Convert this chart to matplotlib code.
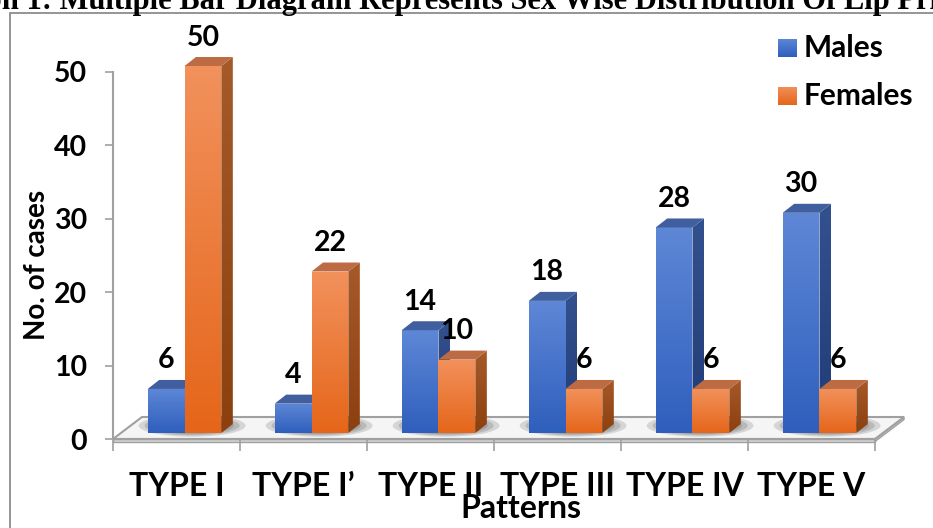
import numpy as np
import matplotlib
matplotlib.use("Agg")
import matplotlib.pyplot as plt
from matplotlib.patches import Polygon, Rectangle, Ellipse
from matplotlib.colors import to_rgb

# ---- data -------------------------------------------------------------
categories = ["TYPE I", "TYPE I\u2019", "TYPE II", "TYPE III", "TYPE IV", "TYPE V"]
males = [6, 4, 14, 18, 28, 30]
females = [50, 22, 10, 6, 6, 6]
series_names = ["Males", "Females"]
y_ticks = [0, 10, 20, 30, 40, 50]
title = "Graph 1: Multiple Bar Diagram Represents Sex Wise Distribution Of Lip Print Patterns"

# ---- style ------------------------------------------------------------
plt.rcParams["font.family"] = ["Lato", "DejaVu Sans"]
plt.rcParams["font.weight"] = "bold"

W, H = 933, 528
fig = plt.figure(figsize=(W / 100, H / 100), dpi=100)
fig.patch.set_facecolor("white")
ax = fig.add_axes([0, 0, 1, 1])

# pixel geometry of the plot frame
x0_px, y0_px = 113.0, 439.0     # origin of the value axis
cat_px = 127.0                  # width of one category
unit_px = 7.34                  # pixels per count
ax.set_xlim(-x0_px / cat_px, (W - x0_px) / cat_px)
ax.set_ylim((y0_px - H) / unit_px, y0_px / unit_px)
ax.set_autoscale_on(False)
ax.set_facecolor("none")

# 3-D projection offsets (data units)
floor_dx, floor_dy = 29 / cat_px, 22 / unit_px
front_dx, front_dy = 8 / cat_px, 6 / unit_px
depth_dx, depth_dy = 11.5 / cat_px, 9 / unit_px
bar_w = 0.29
grey = "#a0a0a0"

def gradient_fill(verts, top, bottom, z):
    verts = np.asarray(verts)
    xa, xb = verts[:, 0].min(), verts[:, 0].max()
    ya, yb = verts[:, 1].min(), verts[:, 1].max()
    t = np.linspace(0, 1, 64)[:, None]
    c = (1 - t) * np.array(to_rgb(top)) + t * np.array(to_rgb(bottom))
    img = c[:, None, :]
    im = ax.imshow(img, extent=[xa, xb, ya, yb], origin="upper",
                   aspect="auto", interpolation="bilinear", zorder=z)
    poly = Polygon(verts, closed=True, facecolor="none", edgecolor="none")
    ax.add_patch(poly)
    im.set_clip_path(poly)

# ---- floor ------------------------------------------------------------
n = len(categories)
floor = [(0, 0), (n, 0), (n + floor_dx, floor_dy), (floor_dx, floor_dy)]
slab_h = 0.35
ax.add_patch(Polygon([(0, 0), (n, 0), (n, -slab_h), (0, -slab_h)],
                     facecolor="#d6d6d6", edgecolor=grey, lw=1.0, zorder=1))
ax.add_patch(Polygon([(n, 0), (n + floor_dx, floor_dy),
                      (n + floor_dx, floor_dy - slab_h), (n, -slab_h)],
                     facecolor="#cfcfcf", edgecolor=grey, lw=1.0, zorder=1))
floor_patch = Polygon(floor, facecolor="#f5f5f5", edgecolor=grey, lw=1.5, zorder=1.2)
ax.add_patch(floor_patch)

# soft shadows on the floor behind each pair of bars
for k in range(n):
    cx = k + 0.5 + front_dx + 0.06
    for i in range(7):
        s = 1 - i * 0.11
        e = Ellipse((cx, front_dy + 1.0), 2 * bar_w * 1.45 * s, 3.0 * s,
                    facecolor="black", edgecolor="none", alpha=0.13, zorder=1.3)
        ax.add_patch(e)
        e.set_clip_path(floor_patch)

# ---- bars -------------------------------------------------------------
colours = [
    dict(front=("#5e87d6", "#2f5fbd"), top="#415f9f", side=("#34518f", "#1f3c78")),
    dict(front=("#f2915c", "#e5661a"), top="#bd6b42", side=("#a65a2a", "#8c400e")),
]
for k in range(n):
    for s, vals in enumerate([males, females]):
        v = vals[k]
        c = colours[s]
        z = 3 + k * 0.1 + s * 0.05
        xl = k + 0.5 - bar_w + s * bar_w + front_dx
        xr = xl + bar_w
        yb, yt = front_dy, front_dy + v
        gradient_fill([(xl, yb), (xr, yb), (xr, yt), (xl, yt)], *c["front"], z)
        gradient_fill([(xr, yb), (xr + depth_dx, yb + depth_dy),
                       (xr + depth_dx, yt + depth_dy), (xr, yt)], *c["side"], z)
        ax.add_patch(Polygon([(xl, yt), (xr, yt), (xr + depth_dx, yt + depth_dy),
                              (xl + depth_dx, yt + depth_dy)],
                             facecolor=c["top"], edgecolor="none", zorder=z))
        ax.annotate(str(v), xy=((xl + xr) / 2, yt), xytext=(0, 20.5),
                    textcoords="offset points", ha="center", va="center",
                    fontsize=20.5, fontweight="bold", zorder=10)

# ---- axes -------------------------------------------------------------
for side in ["top", "right"]:
    ax.spines[side].set_visible(False)
ax.spines["left"].set_position(("data", 0))
ax.spines["left"].set_bounds(0, y_ticks[-1])
ax.spines["left"].set_color(grey)
ax.spines["left"].set_linewidth(1.5)
ax.spines["bottom"].set_position(("data", 0))
ax.spines["bottom"].set_bounds(0, n)
ax.spines["bottom"].set_color(grey)
ax.spines["bottom"].set_linewidth(1.5)
ax.spines["bottom"].set_zorder(1.25)

ax.set_yticks(y_ticks)
ax.set_yticklabels([str(t) for t in y_ticks])
ax.tick_params(axis="y", direction="out", length=5.8, width=1.2, color=grey,
               pad=13.0, labelsize=20.5)
ax.set_xticks(np.arange(n + 1))
ax.set_xticklabels([])
ax.set_xticks(np.arange(n) + 0.5, minor=True)
ax.set_xticklabels(categories, minor=True)
ax.tick_params(axis="x", which="major", direction="out", length=8.6, width=1.2,
               color=grey)
ax.tick_params(axis="x", which="minor", length=0, pad=24, labelsize=23)

ax.set_ylabel("No. of cases", fontsize=20, fontweight="bold")
ax.yaxis.set_label_coords(37 / W, 1 - 265 / H)
ax.set_xlabel("Patterns", fontsize=23, fontweight="bold")
ax.xaxis.set_label_coords(521 / W, 1 - 508 / H)
ax.xaxis.label.set_va("center")
ax.yaxis.label.set_va("center")

# ---- legend -----------------------------------------------------------
leg_rows = [48, 96]
for name, row, c in zip(series_names, leg_rows, colours):
    sq = 19
    lx = (778 - x0_px) / cat_px
    ly_top = (y0_px - (row - sq / 2)) / unit_px
    ly_bot = (y0_px - (row + sq / 2)) / unit_px
    gradient_fill([(lx, ly_bot), (lx + sq / cat_px, ly_bot),
                   (lx + sq / cat_px, ly_top), (lx, ly_top)], *c["front"], 10)
    fig.text(804 / W, 1 - row / H, name, ha="left", va="center",
             fontsize=21.5, fontweight="bold")

# ---- frame and clipped caption ---------------------------------------
fig.add_artist(Rectangle((9.5 / W, -0.1), 2.0, 1 - 13 / H + 0.1,
                         transform=fig.transFigure, fill=False,
                         edgecolor="#8c8c8c", lw=1.3))
renderer = fig.canvas.get_renderer()
font_kw = dict(family=["Liberation Serif", "DejaVu Serif"], fontweight="bold", fontsize=22)
probe = fig.text(0, 0, "Graph 1: ", **font_kw)
prefix_w = probe.get_window_extent(renderer).width
probe.remove()
fig.text((60 - prefix_w) / W, 1 - 9.5 / H, title, ha="left", va="baseline", **font_kw)

fig.savefig("out.png", dpi=100)
